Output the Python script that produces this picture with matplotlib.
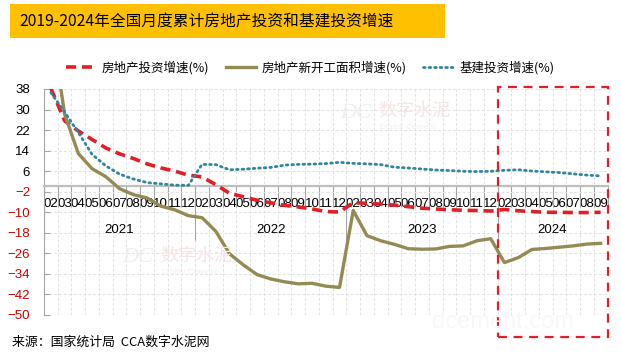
import matplotlib
matplotlib.use("Agg")
import matplotlib.pyplot as plt
from matplotlib.patches import Rectangle
import numpy as np

plt.rcParams['font.family'] = ['Liberation Sans', 'Noto Sans CJK SC']

# categories: months per year
years = ['2021', '2022', '2023', '2024']
months = [
    ['02', '03', '04', '05', '06', '07', '08', '09', '10', '11', '12'],
    ['02', '03', '04', '05', '06', '07', '08', '09', '10', '11', '12'],
    ['02', '03', '04', '05', '06', '07', '08', '09', '10', '11', '12'],
    ['02', '03', '04', '05', '06', '07', '08', '09'],
]

# 房地产投资增速(%)
realestate = [38.3, 25.6, 21.6, 18.3, 15.0, 12.7, 10.9, 8.8, 7.2, 6.0, 4.4,
              3.7, 0.7, -2.7, -4.0, -5.4, -6.4, -7.4, -8.0, -8.8, -9.8, -10.0,
              -6.3, -6.6, -6.9, -7.3, -7.9, -8.5, -8.8, -9.1, -9.3, -9.4, -9.6,
              -9.0, -9.5, -9.8, -10.1, -10.1, -10.2, -10.2, -10.1]
# 房地产新开工面积增速(%)
newstarts = [64.3, 28.2, 12.8, 6.9, 3.8, -0.9, -3.2, -4.5, -7.7, -9.1, -11.4,
             -12.2, -17.5, -26.3, -30.6, -34.4, -36.1, -37.2, -38.0, -37.8, -38.9, -39.4,
             -9.4, -19.2, -21.2, -22.6, -24.3, -24.5, -24.4, -23.4, -23.2, -21.2, -20.4,
             -29.7, -27.8, -24.6, -24.2, -23.7, -23.2, -22.5, -22.2]
# 基建投资增速(%)
infra = [36.6, 29.0, 21.0, 12.5, 8.0, 4.8, 2.9, 1.5, 1.0, 0.5, 0.4,
         8.6, 8.5, 6.5, 6.7, 7.1, 7.4, 8.3, 8.6, 8.7, 8.9, 9.4,
         9.0, 8.8, 8.5, 7.5, 7.2, 6.8, 6.4, 6.2, 5.9, 5.8, 5.9,
         6.3, 6.5, 6.0, 5.7, 5.4, 4.9, 4.4, 4.1]

yticks = [38, 30, 22, 14, 6, -2, -10, -18, -26, -34, -42, -50]

labels = [m for ms in months for m in ms]
x = np.arange(len(labels))

fig = plt.figure(figsize=(6.21, 3.54), dpi=100)
W, H = 621, 354

# title box
fig.patches.append(Rectangle((10 / W, 1 - 38 / H), 435 / W, 34 / H, transform=fig.transFigure,
                             facecolor='#ffc000', edgecolor='none', zorder=0))
fig.text(19 / W, 1 - 22.5 / H, '2019-2024年全国月度累计房地产投资和基建投资增速',
         fontsize=11.3, va='center', ha='left', family=['Noto Sans CJK SC'])

ax = fig.add_axes([44 / W, 1 - 314.6 / H, 563.5 / W, 225.6 / H])
ax.set_xlim(-0.5, len(labels) - 0.5)
ax.set_ylim(-50, 38)

ax.plot(x, realestate, color='#e41e26', lw=2.6, ls=(0, (2.8, 1.6)), label='房地产投资增速(%)', zorder=3)
ax.plot(x, newstarts, color='#948a54', lw=2.4, solid_joinstyle='round', label='房地产新开工面积增速(%)', zorder=3)
ax.plot(x, infra, color='#31859c', lw=2.0, ls=(0, (0.6, 1.4)), dash_capstyle='round',
        label='基建投资增速(%)', zorder=4)

for s in ['top', 'right']:
    ax.spines[s].set_visible(False)
ax.spines['left'].set_color('#a6a6a6')
ax.spines['bottom'].set_position(('data', 0))
ax.spines['bottom'].set_color('#bfbfbf')
ax.spines['bottom'].set_linewidth(1.6)

ax.set_yticks(yticks)
ax.tick_params(axis='y', direction='in', length=4, color='#a6a6a6', pad=10, labelsize=9.5)
for t, v in zip(ax.get_yticklabels(), yticks):
    t.set_color('#000000' if v > 0 else '#cc0000')

ax.set_xticks(x)
ax.set_xticklabels(labels)
ax.set_xticks(np.arange(-0.5, len(labels)), minor=True)
ax.tick_params(axis='x', which='major', length=0, pad=8.0, labelsize=9.6)
ax.tick_params(axis='x', which='minor', length=15, direction='out', color='#a6a6a6', width=0.8)

ax.grid(which='major', axis='y', color='#e3e3e3', ls=(0, (3, 2)), lw=0.7)
ax.grid(which='minor', axis='x', color='#e3e3e3', ls=(0, (3, 2)), lw=0.7)
ax.set_axisbelow(True)

# year separators and labels
bounds = np.cumsum([0] + [len(ms) for ms in months]) - 0.5
ax.vlines(bounds, -21, 0, color='#a6a6a6', lw=0.8, zorder=2)
for i, y in enumerate(years):
    ax.text((bounds[i] + bounds[i + 1]) / 2, -17, y, ha='center', va='center', fontsize=9.5,
            family='Liberation Sans')

# highlight box around 2024
ax.add_patch(Rectangle((bounds[3], -58.7), bounds[4] - bounds[3], 97.5, fill=False,
                       edgecolor='#e41e26', lw=1.6, ls=(0, (4, 3)), clip_on=False, zorder=5))

# watermarks
for (wx, wy) in [(340, 113), (122, 258)]:
    fig.text(wx / W, 1 - wy / H, 'DC', fontsize=16, color='#eeeeee', style='italic',
             family='Liberation Serif', va='center')
    fig.text((wx + 38) / W, 1 - (wy - 2) / H, '数字水泥', fontsize=13, color='#f7e4e4',
             family=['Noto Sans CJK SC'], va='center')
    fig.text((wx + 40) / W, 1 - (wy + 14) / H, 'Digital Cement', fontsize=6, color='#f0f0f0',
             va='center')
fig.text(432 / W, 1 - 322 / H, 'dcement.com', fontsize=17, color='#f8f8f8', va='center')

fig.legend(loc='center', bbox_to_anchor=(310 / W, 1 - 68 / H), ncol=3, frameon=False,
           prop={'family': ['Noto Sans CJK SC'], 'size': 9}, handlelength=2.4,
           handletextpad=0.5, columnspacing=1.3)

fig.text(12 / W, 1 - 342 / H, '来源：国家统计局  CCA数字水泥网', fontsize=9.3, va='center',
         family=['Noto Sans CJK SC'])

fig.savefig('out.png', dpi=100)
